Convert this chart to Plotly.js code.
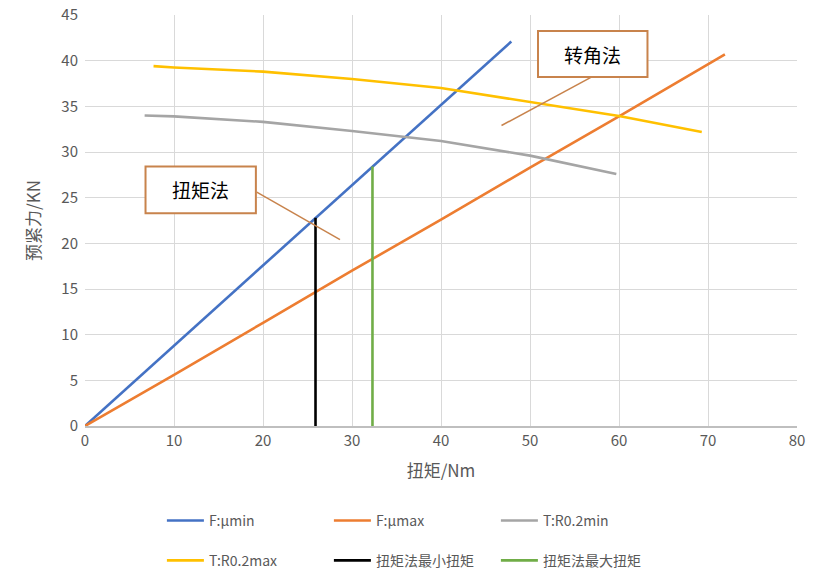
<!DOCTYPE html>
<html>
<head>
<meta charset="utf-8">
<script src="https://cdn.plot.ly/plotly-3.0.1.min.js"></script>
<style>
  body { margin: 0; background: #fff; }
  #chart { width: 820px; height: 584px; }
</style>
</head>
<body>
<div id="chart"></div>
<script>
// values
let minFricX = [0, 10, 20, 26, 30, 40, 47.9];
let minFricY = [0, 8.8, 17.5, 22.8, 26.3, 35.1, 42.1];

let maxFricX = [0, 10, 20, 30, 40, 50, 60, 71.9];
let maxFricY = [0, 5.6, 11.3, 17.0, 22.6, 28.3, 33.9, 40.7];

let yieldMinX = [6.7, 10, 20, 30, 40, 50, 59.7];
let yieldMinY = [34.0, 33.9, 33.3, 32.3, 31.2, 29.6, 27.6];

let yieldMaxX = [7.7, 10, 20, 30, 40, 50, 60, 69.3];
let yieldMaxY = [39.4, 39.25, 38.8, 38.0, 37.0, 35.5, 33.95, 32.2];

let minTorqueX = [25.9, 25.9];
let minTorqueY = [0, 22.8];

let maxTorqueX = [32.3, 32.3];
let maxTorqueY = [0, 28.4];

let names = ["F:µmin", "F:µmax", "T:R0.2min", "T:R0.2max", "扭矩法最小扭矩", "扭矩法最大扭矩"];
let colors = ["#4472c4", "#ed7d31", "#a5a5a5", "#ffc000", "#000000", "#70ad47"];

let font = "'Noto Sans CJK SC', 'Noto Sans', sans-serif";
let boxColor = "#c8834c";

function line(x, y, i) {
  return {
    type: "scatter",
    mode: "lines",
    x: x,
    y: y,
    name: names[i],
    legend: i < 3 ? "legend" : "legend2",
    line: { color: colors[i], width: 2.6 },
    hoverinfo: "skip",
  };
}

var data = [
  line(minFricX, minFricY, 0),
  line(maxFricX, maxFricY, 1),
  line(yieldMinX, yieldMinY, 2),
  line(yieldMaxX, yieldMaxY, 3),
  line(minTorqueX, minTorqueY, 4),
  line(maxTorqueX, maxTorqueY, 5),
];

var legendBase = {
  orientation: "h",
  x: 0.108,
  xanchor: "left",
  yanchor: "middle",
  itemwidth: 37,
  entrywidth: 115,
  font: { family: font, size: 14, color: "#595959" },
  bgcolor: "rgba(0,0,0,0)",
};

var layout = {
  width: 820,
  height: 584,
  margin: { l: 85, r: 23, t: 15, b: 158, autoexpand: false },
  paper_bgcolor: "#fff",
  plot_bgcolor: "#fff",
  font: { family: font, color: "#595959" },
  showlegend: true,
  legend: Object.assign({}, legendBase, { y: -0.231 }),
  legend2: Object.assign({}, legendBase, { y: -0.328 }),
  xaxis: {
    range: [0, 80],
    dtick: 10,
    showgrid: true,
    gridcolor: "#d9d9d9",
    zeroline: false,
    showline: true,
    linecolor: "#bfbfbf",
    linewidth: 1.5,
    ticks: "",
    tickfont: { family: font, size: 15, color: "#595959" },
    title: { text: "扭矩/Nm", font: { family: font, size: 17, color: "#595959" }, standoff: 16 },
  },
  yaxis: {
    range: [0, 45],
    dtick: 5,
    showgrid: true,
    gridcolor: "#d9d9d9",
    zeroline: false,
    showline: false,
    ticks: "",
    ticklabelstandoff: 6,
    tickfont: { family: font, size: 15, color: "#595959" },
    title: { text: "预紧力/KN", font: { family: font, size: 17, color: "#595959" }, standoff: 16 },
  },
  shapes: [
    { type: "line", xref: "x", yref: "y", x0: 19.3, y0: 25.6, x1: 28.65, y1: 20.4,
      line: { color: boxColor, width: 1.5 } },
    { type: "line", xref: "x", yref: "y", x0: 57.1, y0: 38.3, x1: 46.8, y1: 32.9,
      line: { color: boxColor, width: 1.5 } },
    { type: "rect", xref: "x", yref: "y", x0: 6.8, x1: 19.2, y0: 23.3, y1: 28.4,
      fillcolor: "#fff", line: { color: boxColor, width: 2 } },
    { type: "rect", xref: "x", yref: "y", x0: 50.9, x1: 63.2, y0: 38.2, y1: 43.25,
      fillcolor: "#fff", line: { color: boxColor, width: 2 } },
  ],
  annotations: [
    { x: 13.0, y: 25.85, xref: "x", yref: "y", text: "扭矩法", showarrow: false,
      font: { family: font, size: 19, color: "#000" } },
    { x: 57.05, y: 40.7, xref: "x", yref: "y", text: "转角法", showarrow: false,
      font: { family: font, size: 19, color: "#000" } },
  ],
};

Plotly.newPlot("chart", data, layout, { staticPlot: true });
</script>
</body>
</html>
